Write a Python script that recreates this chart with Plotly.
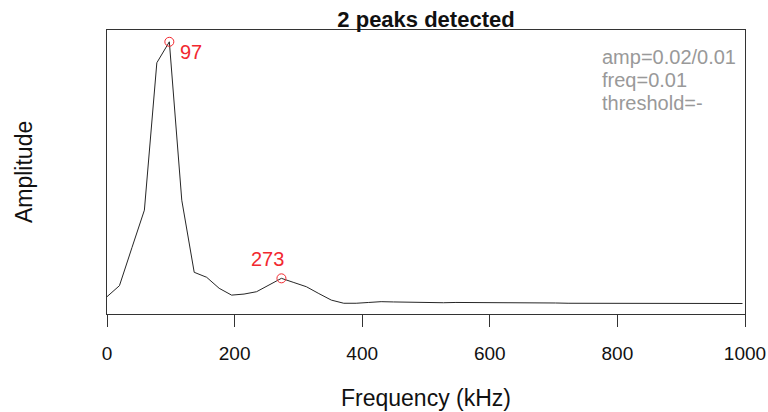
import plotly.graph_objects as go

freq_khz = [0.0, 19.5, 39.1, 58.6, 78.1, 97.7, 117.2, 136.7, 156.2, 175.8,
            195.3, 214.8, 234.4, 253.9, 273.4, 292.9, 312.5, 332.0, 351.6, 371.1,
            390.6, 410.2, 429.7, 449.2, 468.8, 488.3, 507.8, 527.3, 546.9, 566.4,
            585.9, 605.5, 625.0, 644.5, 664.1, 683.6, 703.1, 722.7, 742.2, 761.7,
            781.2, 800.8, 820.3, 839.8, 859.4, 878.9, 898.4, 918.0, 937.5, 957.0,
            976.6, 996.1]
amplitude = [0.028, 0.070, 0.215, 0.358, 0.920, 1.000, 0.396, 0.121, 0.102, 0.060,
             0.034, 0.038, 0.047, 0.072, 0.098, 0.082, 0.066, 0.040, 0.015, 0.003,
             0.003, 0.006, 0.009, 0.008, 0.007, 0.006, 0.005, 0.005, 0.006, 0.006,
             0.006, 0.005, 0.005, 0.004, 0.004, 0.004, 0.004, 0.003, 0.003, 0.003,
             0.003, 0.003, 0.003, 0.003, 0.003, 0.003, 0.003, 0.003, 0.002, 0.002,
             0.002, 0.002]
peak_freq = [97.7, 273.4]
peak_amp = [1.000, 0.098]
peak_labels = ["97", "273"]
x_ticks = [0, 200, 400, 600, 800, 1000]
info_lines = ["amp=0.02/0.01", "freq=0.01", "threshold=-"]

FONT = "Liberation Sans, Arial, Helvetica, sans-serif"
RED = "#f2282f"

fig = go.Figure()
fig.add_trace(go.Scatter(x=freq_khz, y=amplitude, mode="lines",
                         line=dict(color="#262626", width=1), hoverinfo="skip"))
fig.add_trace(go.Scatter(x=peak_freq, y=peak_amp, mode="markers",
                         marker=dict(symbol="circle-open", size=9, color=RED,
                                     line=dict(width=1, color=RED)),
                         hoverinfo="skip"))

# peak labels
fig.add_annotation(x=peak_freq[0], y=peak_amp[0], text=peak_labels[0], showarrow=False,
                   xanchor="left", yanchor="middle", xshift=9, yshift=-10,
                   font=dict(family=FONT, size=20, color=RED))
fig.add_annotation(x=peak_freq[1], y=peak_amp[1], text=peak_labels[1], showarrow=False,
                   xanchor="center", yanchor="bottom", xshift=-14, yshift=6,
                   font=dict(family=FONT, size=20, color=RED))

# info text (top right)
for i, t in enumerate(info_lines):
    fig.add_annotation(xref="paper", yref="paper", x=0.7727, y=0.905 - i * 0.081,
                       text=t, showarrow=False, xanchor="left", yanchor="middle",
                       font=dict(family=FONT, size=20, color="#999999"))

# axis titles
fig.add_annotation(xref="paper", yref="paper", x=0.5, y=-0.296, text="Frequency (kHz)",
                   showarrow=False, xanchor="center", yanchor="middle",
                   font=dict(family=FONT, size=23, color="#111111"))
fig.add_annotation(xref="paper", yref="paper", x=-0.130, y=0.5, text="Amplitude",
                   textangle=-90, showarrow=False, xanchor="center", yanchor="middle",
                   font=dict(family=FONT, size=23, color="#111111"))

fig.update_layout(
    width=768, height=412,
    margin=dict(l=107, r=23, t=30, b=98, autoexpand=False),
    paper_bgcolor="white", plot_bgcolor="white",
    showlegend=False,
    title=dict(text="<b>2 peaks detected</b>", x=0.5547, xanchor="center",
               y=0.954, yanchor="middle", yref="container",
               font=dict(family=FONT, size=22, color="#111111")),
    xaxis=dict(range=[0, 1000], tickvals=x_ticks, ticktext=[str(v) for v in x_ticks],
               ticks="outside", ticklen=12, tickcolor="#333333", tickwidth=1,
               showline=True, linecolor="#333333", linewidth=1, mirror=True,
               showgrid=False, zeroline=False, ticklabelstandoff=10, automargin=False,
               tickfont=dict(family=FONT, size=19, color="#111111")),
    yaxis=dict(range=[-0.038, 1.045], showticklabels=False, ticks="",
               showline=True, linecolor="#333333", linewidth=1, mirror=True,
               showgrid=False, zeroline=False, automargin=False),
)

fig.write_html("out.html", config={"displayModeBar": False},
               post_script="document.body.style.margin='0';document.body.style.padding='0';document.body.style.overflow='hidden';")
